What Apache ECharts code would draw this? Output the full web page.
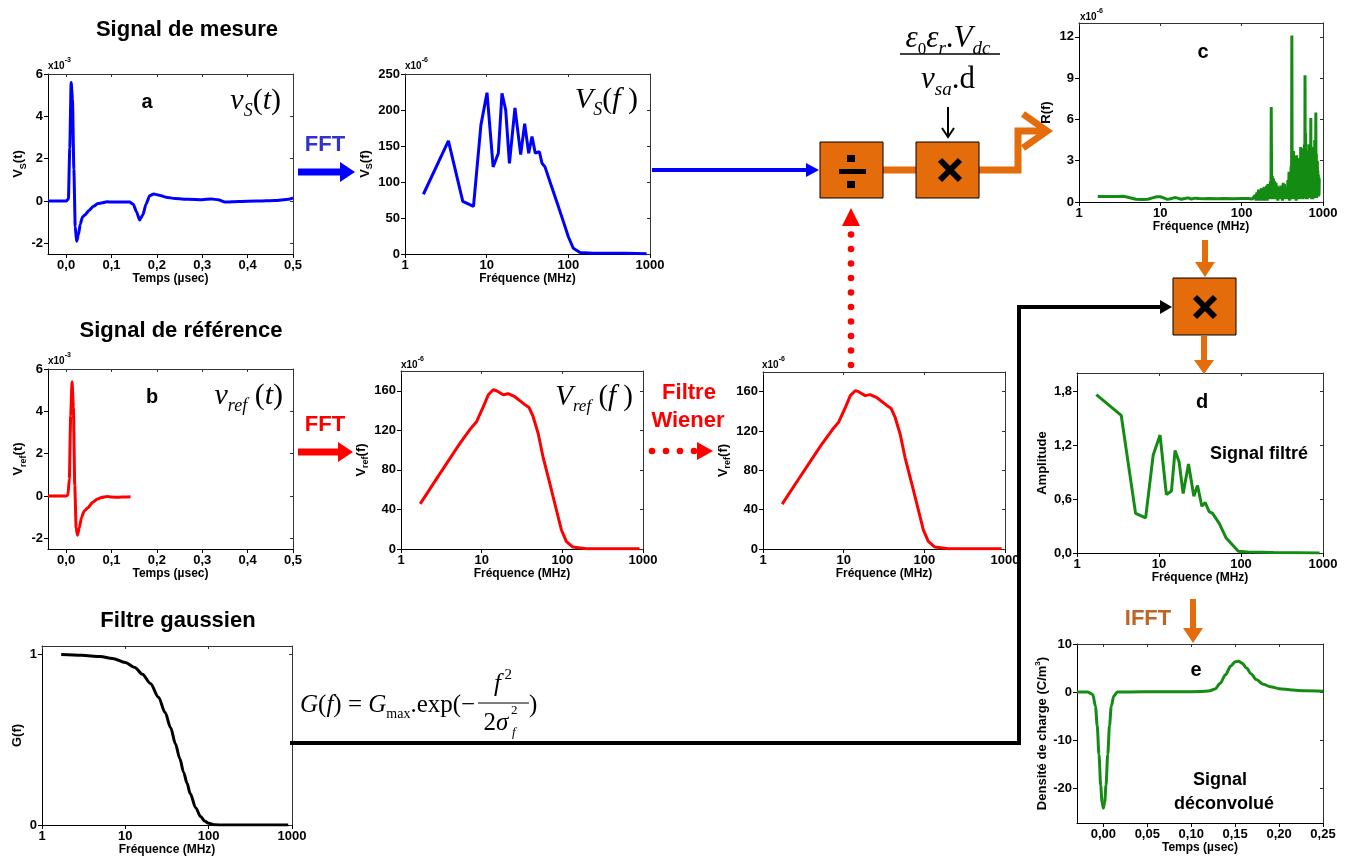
<!DOCTYPE html>
<html lang="fr">
<head>
  <meta charset="UTF-8">
  <title>Déconvolution du signal</title>
  <script src="https://cdn.jsdelivr.net/npm/echarts@6/dist/echarts.min.js"></script>
</head>
<style>
  * {
    padding: 0px;
    margin: 0px;
  }
  #main {
    width: 1352px;
    height: 863px;
  }
</style>
<body>
<div id="main"></div>
</body>
</html>
<script>
  // a : signal de mesure (x10^-3)
  var mesureT = [-0.04, 0, 0.005, 0.008, 0.011, 0.014, 0.017, 0.02, 0.023, 0.027, 0.031, 0.036, 0.042, 0.05, 0.06, 0.07, 0.08, 0.09, 0.1, 0.12, 0.14, 0.148, 0.155, 0.162, 0.169, 0.176, 0.184, 0.193, 0.205, 0.22, 0.24, 0.27, 0.3, 0.32, 0.335, 0.35, 0.38, 0.42, 0.46, 0.49, 0.5];
  var mesureV = [0, 0, 0.1, 2.5, 5.6, 4.8, 1.5, -1.2, -1.9, -1.6, -1.1, -0.75, -0.65, -0.45, -0.25, -0.12, -0.08, -0.03, -0.05, -0.05, -0.05, -0.15, -0.5, -0.9, -0.65, -0.15, 0.25, 0.33, 0.28, 0.18, 0.12, 0.08, 0.06, 0.1, 0.06, -0.05, -0.02, 0, 0.03, 0.08, 0.15];
  // b : signal de référence (x10^-3)
  var refT = [-0.04, 0, 0.004, 0.007, 0.01, 0.013, 0.016, 0.019, 0.022, 0.025, 0.029, 0.034, 0.04, 0.048, 0.058, 0.068, 0.078, 0.09, 0.1, 0.115, 0.13, 0.142];
  var refV = [0, 0, 0.05, 0.8, 3.8, 5.4, 4.2, 0.5, -1.5, -1.85, -1.5, -1.0, -0.7, -0.55, -0.3, -0.15, -0.07, -0.02, -0.05, -0.06, -0.04, -0.03];
  // Vs(f) (x10^-6)
  var vsF = [1.68, 3.4, 5.1, 6.9, 8.5, 10.1, 12.0, 13.9, 15.4, 17.1, 19.0, 22.2, 26.1, 29.2, 32.7, 35.9, 39.4, 44.2, 47.6, 51.8, 59.7, 72, 87, 100, 115, 139, 202, 514, 908];
  var vsV = [83, 157, 73, 66, 179, 224, 121, 140, 223, 200, 126, 203, 138, 181, 140, 163, 140, 142, 126, 121, 100, 73, 45, 24, 8, 2, 1, 1, 0.5];
  // Vref(f) (x10^-6)
  var vrefF = [1.73, 2.78, 4.47, 5.4, 7.18, 8.67, 10.5, 12.1, 13.9, 15.3, 18.5, 21.3, 25.8, 29.7, 34.3, 38.7, 43.4, 50.1, 57.7, 69.8, 84.3, 97.2, 112, 135, 198, 500, 908];
  var vrefV = [45.7, 71.4, 97, 107, 121, 129, 144, 156, 161, 160, 156, 157, 154, 150, 146, 143, 134, 117, 93, 66.6, 39.7, 19.5, 7.7, 2, 0.3, 0.3, 0.3];
  // Vref(f) après filtre de Wiener (x10^-6)
  var wienerF = [1.73, 2.78, 4.47, 5.4, 7.18, 8.67, 10.5, 12.1, 13.9, 15.3, 18.5, 21.3, 25.8, 29.7, 34.3, 38.7, 43.4, 50.1, 57.7, 69.8, 84.3, 97.2, 112, 135, 198, 500, 908];
  var wienerV = [45.7, 71.4, 97, 107, 121, 129, 144, 156, 161, 160, 156, 157, 154, 150, 146, 143, 134, 117, 93, 66.6, 39.7, 19.5, 7.7, 2, 0.3, 0.3, 0.3];
  // c : R(f) (x10^-6)
  var rF = [1.7, 2, 2.5, 3, 3.5, 4, 5, 6, 7, 8, 9, 10, 11, 12, 13, 15, 16, 18, 20, 22, 24, 27, 30, 35, 40, 50, 60, 80, 100, 120, 135,
    140, 147, 150, 154, 157, 161, 164, 168, 171, 175, 178, 182, 185, 189, 192, 196, 199, 203, 206, 210, 214, 218, 222, 226, 229, 231, 234, 238, 242, 246, 250, 255, 259, 264, 268, 273, 278, 283, 288, 293, 298, 303, 308, 313, 318, 324, 329, 335, 340, 346, 352, 358, 364, 370, 376, 382, 388, 394, 400,
    405, 410, 414, 418, 423, 428, 433, 438, 443, 448, 453, 458, 463, 468, 473, 478, 484, 490, 496, 502, 508, 514, 520, 526, 532, 538, 544, 550, 556, 562, 568, 574, 580, 586, 592, 597, 601, 606, 612, 618, 624, 630, 636, 642, 648, 654, 660, 666, 672, 678, 684, 690, 696, 702, 708, 714, 720, 726, 732, 738, 744, 750, 756, 762, 768, 774, 780, 786, 792, 798, 804, 810, 816, 822, 828, 834, 840, 846, 852, 858, 864, 870, 876, 882, 888, 894, 900];
  var rV = [0.4, 0.4, 0.4, 0.4, 0.42, 0.35, 0.2, 0.18, 0.2, 0.3, 0.38, 0.38, 0.3, 0.2, 0.22, 0.32, 0.3, 0.2, 0.25, 0.3, 0.22, 0.28, 0.25, 0.24, 0.25, 0.24, 0.25, 0.24, 0.25, 0.25, 0.22,
    0.25, 0.5, 0.1, 0.7, 0.15, 0.9, 0.1, 0.8, 0.3, 1.0, 0.1, 0.9, 0.3, 1.1, 0.1, 1.0, 0.4, 1.2, 0.1, 1.3, 0.3, 1.1, 0.2, 1.5, 0.3, 6.9, 0.4, 1.9, 0.2, 1.7, 0.3, 1.5, 0.2, 1.4, 0.3, 1.2, 0.1, 1.1, 0.4, 1.0, 0.2, 1.2, 0.3, 1.0, 0.1, 1.4, 0.3, 1.3, 0.2, 1.1, 0.3, 1.0, 0.2, 1.6, 0.3, 2.2, 0.1, 2.0, 0.4,
    2.6, 0.2, 12.1, 0.5, 3.5, 0.2, 3.7, 0.6, 2.8, 0.2, 3.3, 0.4, 2.6, 0.1, 3.4, 0.5, 2.5, 0.2, 3.0, 0.6, 3.2, 0.2, 2.7, 0.4, 4.0, 0.3, 3.6, 0.5, 2.9, 0.2, 3.9, 0.4, 3.1, 0.3, 4.2, 0.5, 9.2, 0.4, 5.0, 0.2, 3.7, 0.6, 3.0, 0.2, 3.4, 0.6, 2.8, 0.3, 4.2, 0.5, 3.0, 0.3, 2.5, 0.6, 6.1, 0.4, 3.5, 0.2, 4.0, 0.5, 2.9, 0.2, 3.3, 0.6, 3.0, 0.3, 2.6, 0.5, 4.5, 0.3, 3.2, 0.6, 6.5, 0.4, 3.5, 0.3, 2.8, 0.5, 3.0, 0.4, 2.3, 0.6, 2.0, 0.4, 1.8, 0.5, 1.7];
  // d : signal filtré
  var filtreF = [1.72, 3.46, 5.18, 6.87, 8.5, 10.3, 12.3, 14.2, 15.7, 17.6, 19.7, 22.9, 26.6, 29.5, 33.3, 36.6, 40.9, 45, 54.3, 65.5, 79, 92.7, 120, 250, 908];
  var filtreV = [1.76, 1.53, 0.44, 0.39, 1.09, 1.31, 0.65, 0.69, 1.14, 1.01, 0.66, 0.99, 0.63, 0.75, 0.52, 0.56, 0.46, 0.44, 0.33, 0.17, 0.09, 0.02, 0.01, 0.005, 0];
  // e : signal déconvolué (C/m3)
  var deconvT = [-0.03, -0.018, -0.012, -0.009, -0.007, -0.005, -0.003, -0.0015, 0, 0.0015, 0.003, 0.005, 0.007, 0.009, 0.012, 0.016, 0.03, 0.06, 0.09, 0.11, 0.12, 0.127, 0.133, 0.139, 0.145, 0.15, 0.154, 0.158, 0.163, 0.168, 0.174, 0.182, 0.19, 0.2, 0.215, 0.23, 0.25];
  var deconvV = [0, 0, -0.5, -3, -7, -13, -19.5, -23, -24.2, -23, -19.5, -13, -7, -3, -0.8, 0, 0, 0.05, 0.05, 0.1, 0.2, 0.6, 1.8, 3.6, 5.4, 6.3, 6.4, 6.0, 5.0, 3.8, 2.6, 1.6, 1.1, 0.7, 0.4, 0.25, 0.15];
  // filtre gaussien
  var gaussF = [1.7, 3, 5, 7, 10, 13, 16, 20, 25, 30, 35, 40, 45, 50, 55, 60, 70, 80, 90, 100, 120, 150, 300, 900];
  var gaussV = [1, 0.996, 0.988, 0.977, 0.953, 0.924, 0.885, 0.83, 0.75, 0.66, 0.57, 0.475, 0.39, 0.31, 0.245, 0.185, 0.10, 0.05, 0.022, 0.01, 0.001, 0, 0, 0];

  // graduations
  var tempsTicks = [0, 0.1, 0.2, 0.3, 0.4, 0.5];
  var signalTicks = [-2, 0, 2, 4, 6];
  var vsTicks = [0, 50, 100, 150, 200, 250];
  var vrefTicks = [0, 40, 80, 120, 160];
  var rTicks = [0, 3, 6, 9, 12];
  var amplTicks = [0, 0.6, 1.2, 1.8];
  var deconvTicks = [-20, -10, 0, 10];
  var deconvTempsTicks = [0, 0.05, 0.1, 0.15, 0.2, 0.25];
  var gaussTicks = [0, 1];

  var sans = 'Liberation Sans, Arial, sans-serif';
  var serif = 'Liberation Serif, Times New Roman, serif';
  var orange = '#E46C0A';
  var green = '#148c14';

  var grids = [
    {left: 48, top: 74, width: 245, height: 180},    // a
    {left: 405, top: 74, width: 245, height: 180},   // Vs(f)
    {left: 48, top: 369, width: 245, height: 180},   // b
    {left: 401, top: 371, width: 242, height: 178},  // Vref(f)
    {left: 763, top: 372, width: 242, height: 177},  // Wiener
    {left: 1079, top: 23, width: 244, height: 179},  // c
    {left: 1077, top: 373, width: 246, height: 180}, // d
    {left: 1077, top: 644, width: 246, height: 179}, // e
    {left: 42, top: 646, width: 250, height: 179}    // G
  ];

  function zip(xs, ys) {
    return xs.map(function (x, i) { return [x, ys[i]]; });
  }

  function comma(d) {
    return function (v) { return v.toFixed(d).replace('.', ','); };
  }

  var xAxes = [];
  var yAxes = [];

  function xAxisValue(g, min, max, ticks, fmt, name) {
    xAxes.push({
      type: 'value', gridIndex: g, min: min, max: max, position: 'bottom',
      name: name, nameLocation: 'middle', nameGap: 19,
      nameTextStyle: {fontFamily: sans, fontWeight: 'bold', fontSize: 12, color: '#000'},
      axisLine: {onZero: false, lineStyle: {color: '#000'}},
      axisTick: {customValues: ticks, length: 4, lineStyle: {color: '#000'}},
      axisLabel: {customValues: ticks, formatter: fmt, fontFamily: sans, fontWeight: 'bold', fontSize: 13, color: '#000', margin: 5},
      splitLine: {show: false}
    });
    xAxes.push({
      type: 'value', gridIndex: g, min: min, max: max, position: 'top',
      axisLine: {onZero: false, lineStyle: {color: '#333'}},
      axisTick: {customValues: ticks, inside: true, length: 3, lineStyle: {color: '#333'}},
      axisLabel: {show: false}, splitLine: {show: false}
    });
  }

  function xAxisLog(g, name) {
    xAxes.push({
      type: 'log', logBase: 10, gridIndex: g, min: 1, max: 1000, position: 'bottom',
      name: name, nameLocation: 'middle', nameGap: 19,
      nameTextStyle: {fontFamily: sans, fontWeight: 'bold', fontSize: 12, color: '#000'},
      axisLine: {onZero: false, lineStyle: {color: '#000'}},
      axisTick: {length: 4, lineStyle: {color: '#000'}},
      axisLabel: {formatter: function (v) { return String(Math.round(v)); }, fontFamily: sans, fontWeight: 'bold', fontSize: 13, color: '#000', margin: 5},
      splitLine: {show: false}
    });
    xAxes.push({
      type: 'log', logBase: 10, gridIndex: g, min: 1, max: 1000, position: 'top',
      axisLine: {onZero: false, lineStyle: {color: '#333'}},
      axisTick: {inside: true, length: 3, lineStyle: {color: '#333'}},
      axisLabel: {show: false}, splitLine: {show: false}
    });
  }

  function yAxisValue(g, min, max, ticks, fmt, name, gap) {
    yAxes.push({
      type: 'value', gridIndex: g, min: min, max: max, position: 'left',
      name: name, nameLocation: 'middle', nameGap: gap,
      nameTextStyle: {
        fontFamily: sans, fontWeight: 'bold', fontSize: 12, color: '#000',
        rich: {
          m: {fontFamily: sans, fontWeight: 'bold', fontSize: 13, color: '#000', lineHeight: 18, verticalAlign: 'middle'},
          s: {fontFamily: sans, fontWeight: 'bold', fontSize: 9, color: '#000', lineHeight: 8, verticalAlign: 'bottom'},
          p: {fontFamily: sans, fontWeight: 'bold', fontSize: 8, color: '#000', lineHeight: 8, verticalAlign: 'top'}
        }
      },
      axisLine: {onZero: false, lineStyle: {color: '#000'}},
      axisTick: {customValues: ticks, length: 4, lineStyle: {color: '#000'}},
      axisLabel: {customValues: ticks, formatter: fmt, fontFamily: sans, fontWeight: 'bold', fontSize: 13, color: '#000', margin: 5},
      splitLine: {show: false}
    });
    yAxes.push({
      type: 'value', gridIndex: g, min: min, max: max, position: 'right',
      axisLine: {onZero: false, lineStyle: {color: '#333'}},
      axisTick: {customValues: ticks, inside: true, length: 3, lineStyle: {color: '#333'}},
      axisLabel: {show: false}, splitLine: {show: false}
    });
  }

  var plain = function (v) { return String(v); };

  // axes, dans l'ordre des grilles
  xAxisValue(0, -0.04, 0.5, tempsTicks, comma(1), 'Temps (µsec)');
  yAxisValue(0, -2.5, 6, signalTicks, plain, '{m|V}{s|S}{m|(t)}', 20);
  xAxisLog(1, 'Fréquence (MHz)');
  yAxisValue(1, 0, 250, vsTicks, plain, '{m|V}{s|S}{m|(f)}', 30);
  xAxisValue(2, -0.04, 0.5, tempsTicks, comma(1), 'Temps (µsec)');
  yAxisValue(2, -2.5, 6, signalTicks, plain, '{m|V}{s|ref}{m|(t)}', 20);
  xAxisLog(3, 'Fréquence (MHz)');
  yAxisValue(3, 0, 180, vrefTicks, plain, '{m|V}{s|ref}{m|(f)}', 28);
  xAxisLog(4, 'Fréquence (MHz)');
  yAxisValue(4, 0, 180, vrefTicks, plain, '{m|V}{s|ref}{m|(f)}', 28);
  xAxisLog(5, 'Fréquence (MHz)');
  yAxisValue(5, 0, 13, rTicks, plain, '{m|R(f)}', 24);
  xAxisLog(6, 'Fréquence (MHz)');
  yAxisValue(6, 0, 2, amplTicks, comma(1), '{m|Amplitude}', 26);
  xAxisValue(7, -0.03, 0.25, deconvTempsTicks, comma(2), 'Temps (µsec)');
  yAxisValue(7, -27.3, 10, deconvTicks, plain, '{m|Densité de charge (C/m}{p|3}{m|)}', 25);
  xAxisLog(8, 'Fréquence (MHz)');
  yAxisValue(8, 0, 1.05, gaussTicks, plain, '{m|G(f)}', 16);

  function curve(g, xs, ys, color, smooth) {
    return {
      type: 'line', xAxisIndex: g * 2, yAxisIndex: g * 2,
      data: zip(xs, ys), showSymbol: false, smooth: smooth, smoothMonotone: 'x',
      lineStyle: {color: color, width: 3}, itemStyle: {color: color},
      silent: true, animation: false
    };
  }

  var series = [
    curve(0, mesureT, mesureV, '#0000ff', 0.2),
    curve(1, vsF, vsV, '#0000ff', false),
    curve(2, refT, refV, '#ff0000', 0.2),
    curve(3, vrefF, vrefV, '#ff0000', false),
    curve(4, wienerF, wienerV, '#ff0000', false),
    curve(5, rF, rV, green, false),
    curve(6, filtreF, filtreV, green, false),
    curve(7, deconvT, deconvV, green, 0.3),
    curve(8, gaussF, gaussV, '#000', 0.3)
  ];

  // ---- éléments du schéma ----
  function txt(x, y, text, font, fill, align) {
    return {type: 'text', z: 100, style: {x: x, y: y, text: text, font: font, fill: fill || '#000', textAlign: align || 'center', textVerticalAlign: 'middle'}};
  }
  function math(x, y, text, size, align) {
    return {
      type: 'text', z: 100,
      style: {
        x: x, y: y, text: text, fill: '#000', textAlign: align || 'left', textVerticalAlign: 'middle',
        rich: {
          i: {fontFamily: serif, fontStyle: 'italic', fontSize: size, lineHeight: size + 8, verticalAlign: 'middle'},
          n: {fontFamily: serif, fontSize: size, lineHeight: size + 8, verticalAlign: 'middle'},
          s: {fontFamily: serif, fontStyle: 'italic', fontSize: Math.round(size * 0.6), lineHeight: Math.round(size * 0.55), verticalAlign: 'bottom'},
          r: {fontFamily: serif, fontSize: Math.round(size * 0.55), lineHeight: Math.round(size * 0.55), verticalAlign: 'bottom'},
          p: {fontFamily: serif, fontSize: Math.round(size * 0.6), lineHeight: Math.round(size * 0.55), verticalAlign: 'top'}
        }
      }
    };
  }
  function expo(x, y, p) {
    return {
      type: 'text', z: 100,
      style: {
        x: x, y: y, text: '{b|x10}{p|' + p + '}', textAlign: 'left', textVerticalAlign: 'middle', fill: '#000',
        rich: {
          b: {fontFamily: sans, fontWeight: 'bold', fontSize: 10, lineHeight: 14, verticalAlign: 'bottom'},
          p: {fontFamily: sans, fontWeight: 'bold', fontSize: 7, lineHeight: 14, verticalAlign: 'top'}
        }
      }
    };
  }
  function seg(points, color, width) {
    return {type: 'polyline', z: 90, shape: {points: points}, style: {stroke: color, lineWidth: width, fill: null, lineJoin: 'miter'}};
  }
  function tri(points, color) {
    return {type: 'polygon', z: 91, shape: {points: points}, style: {fill: color}};
  }
  function box(x, y, w, h) {
    return {type: 'rect', z: 92, shape: {x: x, y: y, width: w, height: h}, style: {fill: orange, stroke: '#000', lineWidth: 1}};
  }
  function cross(cx, cy) {
    return [
      seg([[cx - 10, cy - 10], [cx + 10, cy + 10]], '#000', 6),
      seg([[cx + 10, cy - 10], [cx - 10, cy + 10]], '#000', 6)
    ].map(function (e) { e.z = 95; e.style.lineCap = 'butt'; return e; });
  }
  function dot(x, y) {
    return {type: 'circle', z: 91, shape: {cx: x, cy: y, r: 3.3}, style: {fill: '#ff0000'}};
  }

  var titleFont = 'bold 22px ' + sans;
  var letterFont = 'bold 20px ' + sans;
  var graphic = [
    txt(187, 30, 'Signal de mesure', titleFont),
    txt(181, 331, 'Signal de référence', titleFont),
    txt(178, 621, 'Filtre gaussien', titleFont),
    txt(147, 102, 'a', letterFont),
    txt(152, 397, 'b', letterFont),
    txt(1203, 52, 'c', letterFont),
    txt(1202, 402, 'd', letterFont),
    txt(1196, 670, 'e', letterFont),
    txt(1259, 454, 'Signal filtré', 'bold 18px ' + sans),
    txt(1220, 780, 'Signal', 'bold 18px ' + sans),
    txt(1224, 804, 'déconvolué', 'bold 18px ' + sans),
    expo(48, 64, '-3'), expo(405, 64, '-6'), expo(48, 359, '-3'),
    expo(401, 363, '-6'), expo(762, 363, '-6'), expo(1080, 15, '-6'),
    math(281, 101, '{i|v}{s|S}{n|(}{i|t}{n|)}', 30, 'right'),
    math(638, 100, '{i|V}{s|S}{n|(}{i|f}{n| )}', 30, 'right'),
    math(283, 396, '{i|v}{s|ref}{n| (}{i|t}{n|)}', 30, 'right'),
    math(633, 397, '{i|V}{s|ref}{n| (}{i|f}{n| )}', 29, 'right'),
    // FFT
    txt(325, 145, 'FFT', 'bold 22px ' + sans, '#3333cc'),
    seg([[298, 172], [342, 172]], '#0000ff', 7),
    tri([[340, 162], [355, 172], [340, 182]], '#0000ff'),
    txt(325, 425, 'FFT', 'bold 22px ' + sans, '#ff0000'),
    seg([[298, 452], [340, 452]], '#ff0000', 7),
    tri([[338, 442], [353, 452], [338, 462]], '#ff0000'),
    // Filtre Wiener
    txt(689, 393, 'Filtre', 'bold 22px ' + sans, '#ff0000'),
    txt(688, 421, 'Wiener', 'bold 22px ' + sans, '#ff0000'),
    dot(652, 451), dot(666, 451), dot(680, 451), dot(694, 451),
    tri([[697, 442], [713, 451], [697, 460]], '#ff0000'),
    // flèche pointillée verticale
    tri([[842, 226], [851, 208], [860, 226]], '#ff0000'),
    // flèche bleue vers la division
    seg([[652, 170], [808, 170]], '#0000ff', 4),
    tri([[806, 163], [819, 170], [806, 177]], '#0000ff'),
    // boîtes
    seg([[883, 170], [916, 170]], orange, 7),
    seg([[979, 170], [1018, 170], [1018, 131], [1046, 131]], orange, 7),
    seg([[1023, 114], [1047, 131], [1023, 148]], orange, 7),
    box(820, 142, 63, 56),
    {type: 'rect', z: 95, shape: {x: 839, y: 169, width: 27, height: 5}, style: {fill: '#000'}},
    {type: 'rect', z: 95, shape: {x: 847, y: 155, width: 8, height: 7}, style: {fill: '#000'}},
    {type: 'rect', z: 95, shape: {x: 847, y: 181, width: 8, height: 7}, style: {fill: '#000'}},
    box(916, 142, 63, 56),
    // constante
    math(948, 39, '{i|ε}{r|0}{i|ε}{s|r}{n|.}{i|V}{s|dc}', 31, 'center'),
    seg([[900, 54], [1000, 54]], '#000', 1.3),
    math(948, 80, '{i|v}{s|sa}{n|.d}', 31, 'center'),
    seg([[948, 107], [948, 136]], '#000', 2),
    seg([[942, 128], [948, 137], [954, 128]], '#000', 2),
    // vers le produit avec le filtre
    seg([[1205, 240], [1205, 263]], orange, 6),
    tri([[1195, 262], [1205, 277], [1215, 262]], orange),
    box(1173, 278, 63, 57),
    seg([[1204, 336], [1204, 361]], orange, 6),
    tri([[1194, 360], [1204, 374], [1214, 360]], orange),
    // IFFT
    txt(1148, 619, 'IFFT', 'bold 22px ' + sans, '#BF6427'),
    seg([[1193, 599], [1193, 629]], orange, 6),
    tri([[1183, 628], [1193, 643], [1203, 628]], orange),
    // ligne du filtre gaussien
    seg([[290, 743], [1019, 743], [1019, 307], [1162, 307]], '#000', 4),
    tri([[1160, 300], [1172, 307], [1160, 314]], '#000'),
    // G(f)
    math(300, 705, '{i|G}{n|(}{i|f}{n|) = }{i|G}{r|max}{n|.exp(−}', 25, 'left'),
    math(503, 684, '{i|f}{p| 2}', 25, 'center'),
    seg([[478, 703], [529, 703]], '#000', 1.2),
    math(496, 723, '{n|2}{i|σ}', 25, 'center'),
    math(511, 711, '{n|2}', 13, 'left'),
    math(512, 733, '{i|f}', 13, 'left'),
    math(529, 705, '{n|)}', 25, 'left')
  ];
  for (var dy = 365; dy >= 228; dy -= 14.5) {
    graphic.push(dot(851, dy));
  }
  graphic = graphic.concat(cross(950, 170), cross(1205, 307));

  var myChart = echarts.init(document.getElementById('main'));
  myChart.setOption({
    backgroundColor: '#fff',
    animation: false,
    grid: grids.map(function (g) {
      return Object.assign({containLabel: false, outerBoundsMode: 'none', show: false}, g);
    }),
    xAxis: xAxes,
    yAxis: yAxes,
    series: series,
    graphic: {elements: graphic}
  });
</script>
